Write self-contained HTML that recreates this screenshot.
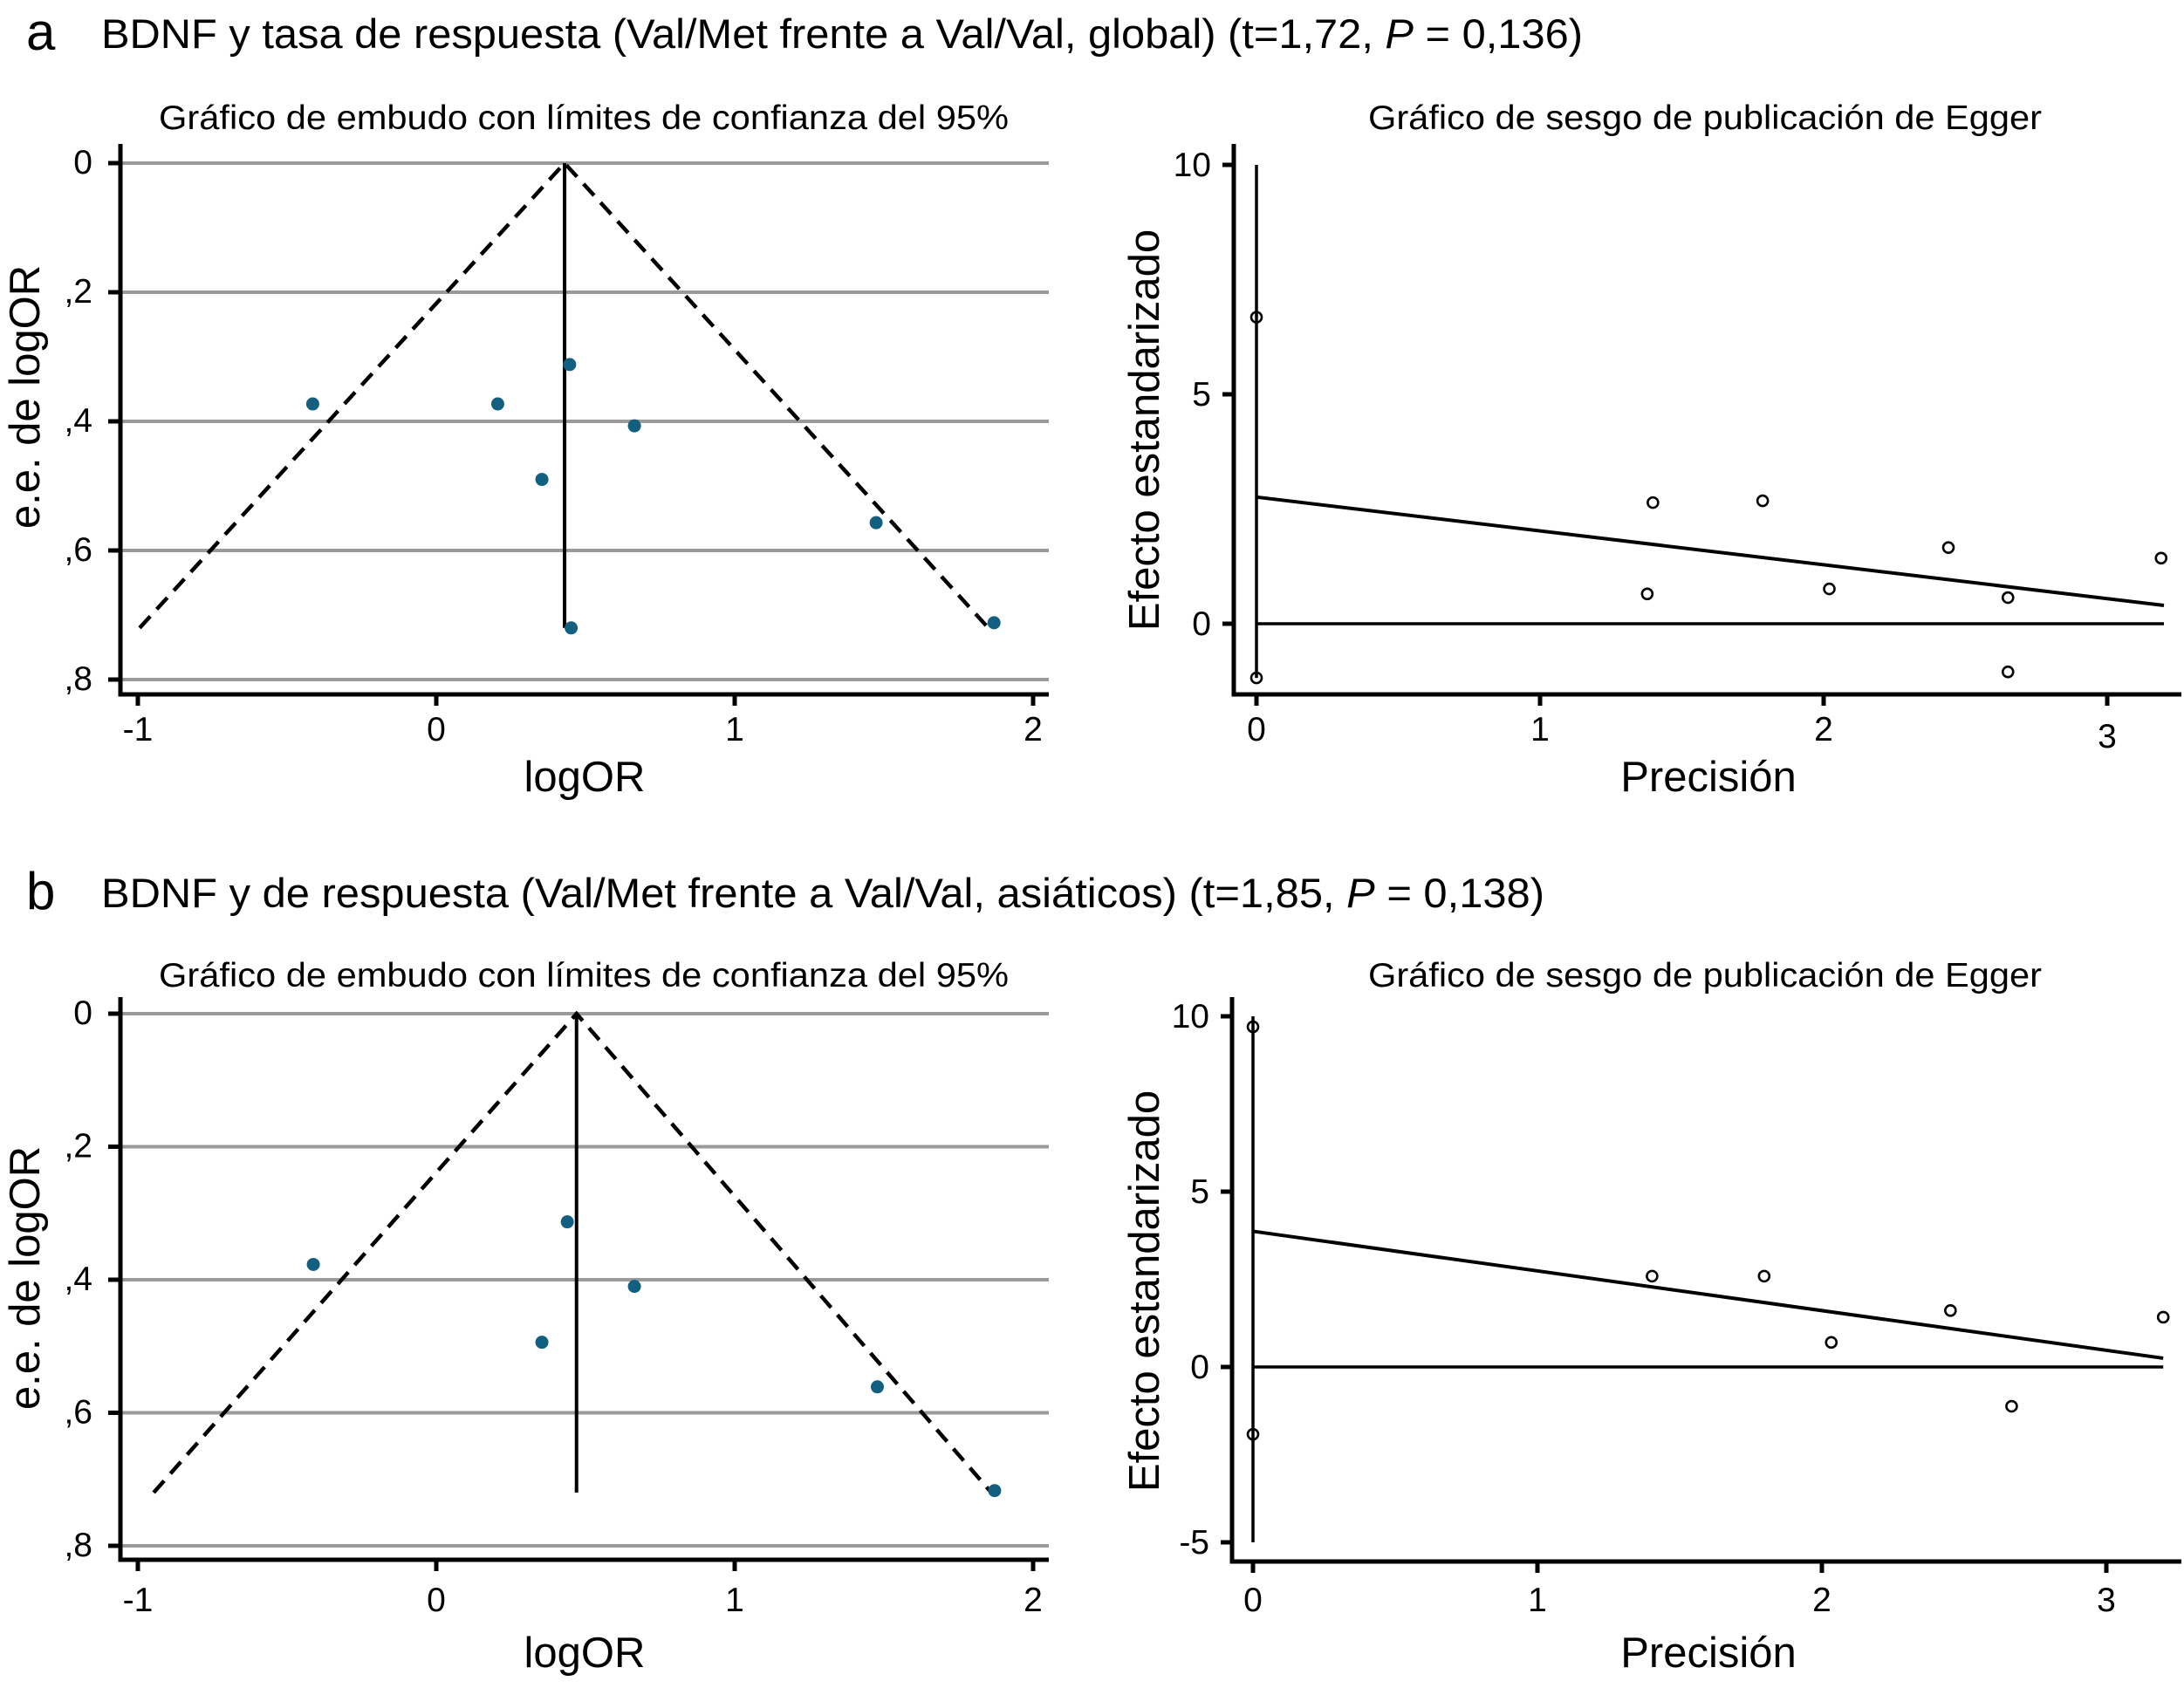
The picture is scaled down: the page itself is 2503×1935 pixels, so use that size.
<!DOCTYPE html>
<html><head><meta charset="utf-8">
<style>
html,body{margin:0;padding:0;background:#fff;}
svg{display:block;font-family:"Liberation Sans",Arial,sans-serif;}
</style></head>
<body>
<svg id="fig" width="2503" height="1935" viewBox="0 0 2503 1935" xmlns="http://www.w3.org/2000/svg">
<rect x="0" y="0" width="2503" height="1935" fill="#fff"/>
<g>
<text x="30" y="57" font-size="60">a</text>
<text x="116" y="55" font-size="47" textLength="1698" lengthAdjust="spacingAndGlyphs">BDNF y tasa de respuesta (Val/Met frente a Val/Val, global) (t=1,72, <tspan font-style="italic">P</tspan> = 0,136)</text>
</g>
<g>
<text x="30" y="1042" font-size="60">b</text>
<text x="116" y="1040" font-size="47" textLength="1654" lengthAdjust="spacingAndGlyphs">BDNF y de respuesta (Val/Met frente a Val/Val, asiáticos) (t=1,85, <tspan font-style="italic">P</tspan> = 0,138)</text>
</g>
</svg>
<script>
// Panel a funnel data
const funnelA_logOR = [-0.414, 0.206, 0.447, 0.664, 0.354, 1.474, 0.452, 1.869];
const funnelA_se    = [0.373, 0.373, 0.312, 0.407, 0.490, 0.557, 0.720, 0.712];
const funnelA_pooled = [0.43];
const funnelA_seMax = [0.72];
const funnelA_limitsLow = [-0.994];
const funnelA_limitsHigh = [1.85];
// Panel b funnel data
const funnelB_logOR = [-0.412, 0.439, 0.664, 0.354, 1.478, 1.871];
const funnelB_se    = [0.377, 0.313, 0.410, 0.494, 0.561, 0.717];
const funnelB_pooled = [0.47];
const funnelB_seMax = [0.72];
const funnelB_limitsLow = [-0.947];
const funnelB_limitsHigh = [1.86];
// Panel a Egger data
const eggerA_precision = [0, 0, 1.398, 1.378, 1.785, 2.02, 2.44, 2.65, 2.65, 3.19];
const eggerA_effect    = [6.68, -1.18, 2.64, 0.65, 2.68, 0.76, 1.66, 0.57, -1.05, 1.43];
const eggerA_fit = [2.76, 0.40];
const eggerA_vline = [10, -1.18];
// Panel b Egger data
const eggerB_precision = [0, 0, 1.403, 1.797, 2.033, 2.452, 2.667, 3.2];
const eggerB_effect    = [9.70, -1.92, 2.59, 2.59, 0.70, 1.61, -1.12, 1.42];
const eggerB_fit = [3.87, 0.25];
const eggerB_vline = [10, -5];
const eggerXmax = [3.2];
// Tick labels
const funnelXTicks = [-1, 0, 1, 2];
const funnelXTickLabels = ["-1", "0", "1", "2"];
const funnelYTicks = [0, 0.2, 0.4, 0.6, 0.8];
const funnelYTickLabels = ["0", ",2", ",4", ",6", ",8"];
const eggerXTicks = [0, 1, 2, 3];
const eggerXTickLabels = ["0", "1", "2", "3"];
const eggerAYTicks = [0, 5, 10];
const eggerAYTickLabels = ["0", "5", "10"];
const eggerBYTicks = [-5, 0, 5, 10];
const eggerBYTickLabels = ["-5", "0", "5", "10"];

const NS = "http://www.w3.org/2000/svg";
const svg = document.getElementById('fig');
function mk(tag, attrs, parent, text){
  const e = document.createElementNS(NS, tag);
  for (const k in attrs) e.setAttribute(k, attrs[k]);
  if (text !== undefined) e.textContent = text;
  (parent || svg).appendChild(e);
  return e;
}
function lin(d0, d1, r0, r1){ return v => r0 + (v - d0) * (r1 - r0) / (d1 - d0); }
const TICKFS = 39, AXFS = 49;

function funnel(prefix, L, xs, ses, pooled, seMax, lo, hi){
  const g = mk('g', {});
  
  
  const X = lin(0, 1, L.x0, L.x1);
  const Y = lin(0, 0.8, L.y0, L.y08);
  const t = mk('text', {x: 669, y: L.titleY, 'font-size': 39, 'text-anchor': 'middle', textLength: 974, lengthAdjust: 'spacingAndGlyphs'}, g, 'Gráfico de embudo con límites de confianza del 95%');
  
  
  funnelYTicks.forEach((v, i) => {
    const gl = mk('line', {x1: 138, x2: 1202, y1: Y(v), y2: Y(v), stroke: '#9a9a9a', 'stroke-width': 4}, g);
    
    
    mk('line', {x1: 124, x2: 138, y1: Y(v), y2: Y(v), stroke: '#000', 'stroke-width': 5}, g);
    const tl = mk('text', {x: 106, y: Y(v) + 12, 'font-size': TICKFS, 'text-anchor': 'end'}, g, funnelYTickLabels[i]);
    
    
  });
  funnelXTicks.forEach((v, i) => {
    mk('line', {x1: X(v), x2: X(v), y1: L.axisY, y2: L.axisY + 13, stroke: '#000', 'stroke-width': 5}, g);
    const tl = mk('text', {x: X(v), y: L.tickY, 'font-size': TICKFS, 'text-anchor': 'middle'}, g, funnelXTickLabels[i]);
    
    
  });
  const ax = mk('path', {d: `M138 ${L.axisTop} V${L.axisY} H1202`, fill: 'none', stroke: '#000', 'stroke-width': 5}, g);
  
  
  const ci = mk('path', {d: `M${X(lo[0])} ${Y(seMax[0])} L${X(pooled[0])} ${Y(0)} L${X(hi[0])} ${Y(seMax[0])}`, fill: 'none', stroke: '#000', 'stroke-width': 4.5, 'stroke-dasharray': '18 11'}, g);
  
  
  const pl = mk('line', {x1: X(pooled[0]), x2: X(pooled[0]), y1: Y(0), y2: Y(seMax[0]), stroke: '#000', 'stroke-width': 4}, g);
  
  
  xs.forEach((v, i) => {
    const c = mk('circle', {cx: X(v), cy: Y(ses[i]), r: 7.5, fill: '#135f80'}, g);
    
    
  });
  const xl = mk('text', {x: 670, y: L.xlabY, 'font-size': AXFS, 'text-anchor': 'middle'}, g, 'logOR');
  
  
  const yl = mk('text', {x: 0, y: 0, 'font-size': AXFS, 'text-anchor': 'middle', transform: `translate(45 ${L.ylabY}) rotate(-90)`}, g, 'e.e. de logOR');
  
  
}

function egger(prefix, L, px, ef, fit, vline, yTicks, yLabels){
  const g = mk('g', {});
  
  
  const X = lin(0, 1, L.x0, L.x1);
  const Y = lin(0, 10, L.yZero, L.yTen);
  const t = mk('text', {x: 1954, y: L.titleY, 'font-size': 39, 'text-anchor': 'middle', textLength: 772, lengthAdjust: 'spacingAndGlyphs'}, g, 'Gráfico de sesgo de publicación de Egger');
  
  
  yTicks.forEach((v, i) => {
    mk('line', {x1: L.axX - 13, x2: L.axX, y1: Y(v), y2: Y(v), stroke: '#000', 'stroke-width': 5}, g);
    const tl = mk('text', {x: L.axX - 26, y: Y(v) + 13, 'font-size': TICKFS, 'text-anchor': 'end'}, g, yLabels[i]);
    
    
  });
  eggerXTicks.forEach((v, i) => {
    mk('line', {x1: X(v), x2: X(v), y1: L.axisY, y2: L.axisY + 13, stroke: '#000', 'stroke-width': 5}, g);
    const tl = mk('text', {x: X(v), y: L.tickY + (L.lowLast && i === 3 ? 8 : 0), 'font-size': TICKFS, 'text-anchor': 'middle'}, g, eggerXTickLabels[i]);
    
    
  });
  const ax = mk('path', {d: `M${L.axX} ${L.axisTop} V${L.axisY} H2500`, fill: 'none', stroke: '#000', 'stroke-width': 5}, g);
  
  
  const vl = mk('line', {x1: X(0), x2: X(0), y1: Y(vline[0]), y2: Y(vline[1]), stroke: '#000', 'stroke-width': 3.5}, g);
  
  
  const zl = mk('line', {x1: X(0), x2: X(eggerXmax[0]), y1: Y(0), y2: Y(0), stroke: '#000', 'stroke-width': 3.5}, g);
  
  
  const rl = mk('line', {x1: X(0), x2: X(eggerXmax[0]), y1: Y(fit[0]), y2: Y(fit[1]), stroke: '#000', 'stroke-width': 4}, g);
  
  
  px.forEach((v, i) => {
    const c = mk('circle', {cx: X(v), cy: Y(ef[i]), r: 6, fill: 'none', stroke: '#000', 'stroke-width': 2.6}, g);
    
    
  });
  const xl = mk('text', {x: 1958, y: L.xlabY, 'font-size': AXFS, 'text-anchor': 'middle'}, g, 'Precisión');
  
  
  const yl = mk('text', {x: 0, y: 0, 'font-size': AXFS, 'text-anchor': 'middle', transform: `translate(1328 ${L.ylabY}) rotate(-90)`}, g, 'Efecto estandarizado');
  
  
}

funnel('panel-a', {x0: 500, x1: 842, y0: 187, y08: 779, axisY: 796, axisTop: 165, tickY: 849, xlabY: 907, titleY: 148, ylabY: 455},
  funnelA_logOR, funnelA_se, funnelA_pooled, funnelA_seMax, funnelA_limitsLow, funnelA_limitsHigh);
funnel('panel-b', {x0: 500, x1: 842, y0: 1162, y08: 1772, axisY: 1788, axisTop: 1143, tickY: 1847, xlabY: 1911, titleY: 1131, ylabY: 1465},
  funnelB_logOR, funnelB_se, funnelB_pooled, funnelB_seMax, funnelB_limitsLow, funnelB_limitsHigh);
egger('panel-a', {x0: 1440, x1: 1765, yZero: 715, yTen: 189, axX: 1414, axisY: 796, axisTop: 165, tickY: 849, lowLast: true, xlabY: 907, titleY: 148, ylabY: 493},
  eggerA_precision, eggerA_effect, eggerA_fit, eggerA_vline, eggerAYTicks, eggerAYTickLabels);
egger('panel-b', {x0: 1436, x1: 1762, yZero: 1567, yTen: 1165, axX: 1412, axisY: 1790, axisTop: 1143, tickY: 1847, lowLast: false, xlabY: 1911, titleY: 1131, ylabY: 1480},
  eggerB_precision, eggerB_effect, eggerB_fit, eggerB_vline, eggerBYTicks, eggerBYTickLabels);
</script>
</body></html>
